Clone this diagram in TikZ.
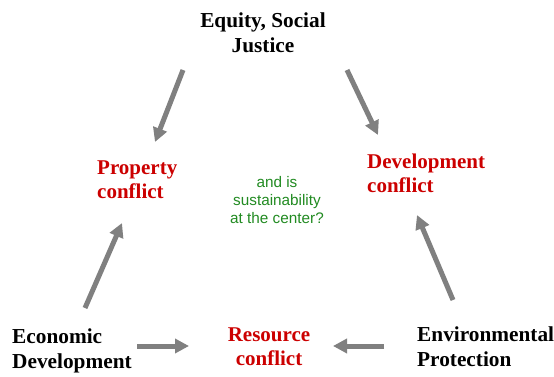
\documentclass[tikz,border=0pt]{standalone}
\usepackage{fontspec}
\setmainfont{Liberation Serif}
\newfontfamily\greenfont{Liberation Sans}
\usetikzlibrary{arrows.meta}
\definecolor{conflictred}{RGB}{204,0,0}
\definecolor{arrowgray}{RGB}{128,128,128}
\definecolor{centergreen}{RGB}{34,139,34}
\begin{document}
\begin{tikzpicture}[x=1pt,y=-1pt,
  pillar/.style={inner sep=0pt, font=\fontsize{21.3}{25}\selectfont\bfseries, text=black},
  conflict/.style={inner sep=0pt, font=\fontsize{21}{23.5}\selectfont\bfseries, text=conflictred},
  question/.style={inner sep=0pt, align=center, font=\greenfont\fontsize{15.3}{18}\selectfont, text=centergreen},
  flow/.style={draw=arrowgray, line width=5pt, -{Triangle[length=14pt,width=14pt]}}]
\path[use as bounding box, fill=white] (0,0) rectangle (554,377);

\node[pillar, align=center, anchor=base] (equity) at (263,53) {Equity, Social\\Justice};
\node[pillar, align=left, anchor=base west] (econ) at (12,368) {Economic\\Development};
\node[pillar, align=left, anchor=base west] (env) at (417,366) {Environmental\\Protection};

\node[conflict, align=left, anchor=base west] (prop) at (97,198) {Property\\conflict};
\node[conflict, align=left, anchor=base west] (dev) at (367,192) {Development\\conflict};
\node[conflict, align=center, anchor=base] (res) at (269,365) {Resource\\conflict};

\node[question, anchor=base] (center) at (277,223) {and is\\sustainability\\at the center?};

\coordinate (a1s) at (183,70);  \coordinate (a1e) at (155,142);
\coordinate (a2s) at (347,70);  \coordinate (a2e) at (378,135);
\coordinate (a3s) at (85,308);  \coordinate (a3e) at (122,223);
\coordinate (a4s) at (453,300); \coordinate (a4e) at (417,215);
\coordinate (a5s) at (137,346); \coordinate (a5e) at (189,346);
\coordinate (a6s) at (384,346); \coordinate (a6e) at (333,346);

\draw[flow] (a1s) -- (a1e);
\draw[flow] (a2s) -- (a2e);
\draw[flow] (a3s) -- (a3e);
\draw[flow] (a4s) -- (a4e);
\draw[flow] (a5s) -- (a5e);
\draw[flow] (a6s) -- (a6e);
\end{tikzpicture}
\end{document}
